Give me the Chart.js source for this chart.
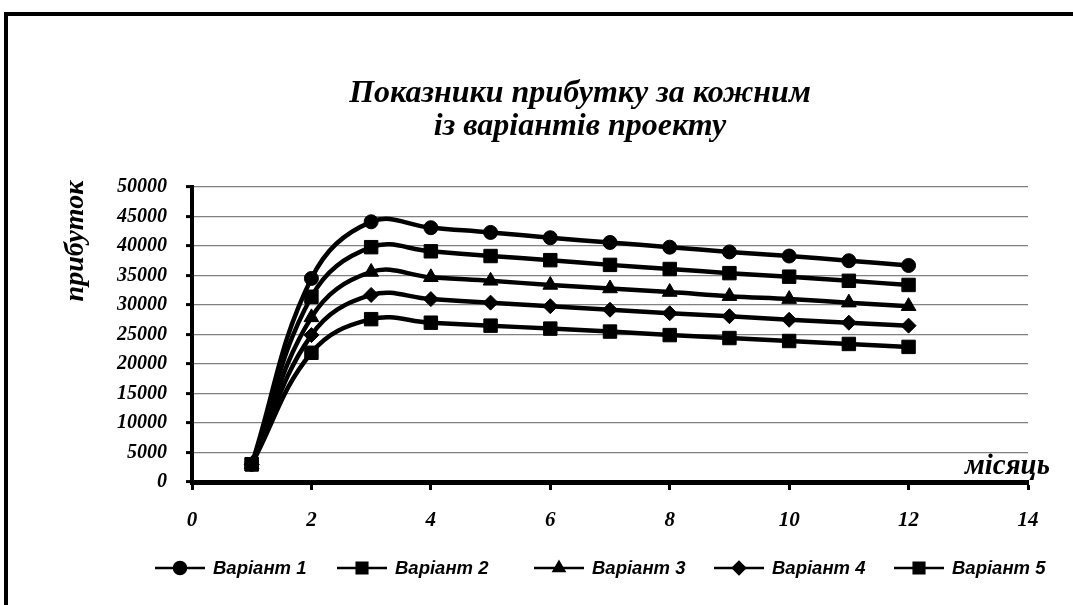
<!DOCTYPE html>
<html>
<head>
<meta charset="utf-8">
<script src="https://cdn.jsdelivr.net/npm/chart.js@4.4.1/dist/chart.umd.min.js"></script>
<style>
  html, body { margin: 0; padding: 0; background: #fff; overflow: hidden; }
  #wrap { position: relative; width: 1073px; height: 605px; }
  #frame {
    position: absolute; left: 4px; top: 12px; width: 1200px; height: 800px;
    border: 4px solid #000; pointer-events: none;
  }
  canvas { position: absolute; left: 0; top: 0; }
</style>
</head>
<body>
<div id="wrap">
  <canvas id="profitChart" width="1073" height="605"></canvas>
  <div id="frame"></div>
</div>
<script>
// ─── ДАНІ ─────────────────────────────────────────────────────────────────
const months = [1, 2, 3, 4, 5, 6, 7, 8, 9, 10, 11, 12];

const variant1 = [3000, 34500, 44100, 43100, 42300, 41400, 40600, 39800, 39000, 38300, 37500, 36700];
const variant2 = [3000, 31400, 39800, 39100, 38300, 37600, 36800, 36100, 35400, 34800, 34100, 33400];
const variant3 = [3000, 27900, 35600, 34700, 34100, 33400, 32800, 32200, 31500, 31000, 30400, 29800];
const variant4 = [3000, 24900, 31700, 31000, 30400, 29800, 29200, 28600, 28100, 27500, 27000, 26500];
const variant5 = [3000, 21900, 27600, 27000, 26500, 26000, 25500, 24900, 24400, 23900, 23400, 22900];

const seriesNames = ['Варіант 1', 'Варіант 2', 'Варіант 3', 'Варіант 4', 'Варіант 5'];
const seriesValues = [variant1, variant2, variant3, variant4, variant5];
const seriesMarkers = ['circle', 'rect', 'triangle', 'rectRot', 'rect'];
const markerRadius = [7, 9.5, 8.5, 7.5, 9.5];

const xTicks = [0, 2, 4, 6, 8, 10, 12, 14];
const yMax = 50000, yStep = 5000;

const titleLines = ['Показники прибутку за кожним', 'із варіантів проекту'];
const yTitle = 'прибуток';
const xTitle = 'місяць';

// ─── ПОЗНАЧКИ ─────────────────────────────────────────────────────────────
const serif = "'Liberation Serif', 'Times New Roman', serif";
const sans  = "'Liberation Sans', Arial, sans-serif";

const datasets = seriesNames.map((name, i) => ({
    label: name,
    data: months.map((m, j) => ({ x: m, y: seriesValues[i][j] })),
    borderColor: '#000',
    backgroundColor: '#000',
    borderWidth: 4.5,
    tension: 0.4,
    pointStyle: seriesMarkers[i],
    pointRadius: markerRadius[i],
    pointBackgroundColor: '#000',
    pointBorderColor: '#000',
    pointBorderWidth: 1
}));

// заголовки та підписи осей
const textPlugin = {
    id: 'texts',
    afterDraw(chart) {
        const c = chart.ctx;
        c.save();
        c.fillStyle = '#000';
        c.textAlign = 'center';
        c.textBaseline = 'alphabetic';
        c.font = `italic bold 32px ${serif}`;
        c.fillText(titleLines[0], 580, 102);
        c.fillText(titleLines[1], 580, 135);

        c.font = `italic bold 29px ${serif}`;
        c.textAlign = 'right';
        c.fillText(xTitle, 1050, 474);

        c.font = `italic bold 28px ${serif}`;
        c.translate(76, 241);
        c.rotate(-Math.PI / 2);
        c.textAlign = 'center';
        c.textBaseline = 'middle';
        c.fillText(yTitle, 0, 0);
        c.restore();
    }
};

// легенда: лінія з маркером
const legendStarts = [155, 337, 534, 714, 894];
const legendPlugin = {
    id: 'lineLegend',
    afterDraw(chart) {
        const c = chart.ctx;
        const y = 568;
        c.save();
        chart.data.datasets.forEach((ds, i) => {
            const x0 = legendStarts[i];
            c.strokeStyle = '#000';
            c.lineWidth = 2.5;
            c.beginPath();
            c.moveTo(x0, y);
            c.lineTo(x0 + 50, y);
            c.stroke();
            c.fillStyle = '#000';
            Chart.helpers.drawPoint(c, {
                pointStyle: ds.pointStyle,
                radius: ds.pointStyle === 'rect' ? 7.5 : 6,
                rotation: 0,
                borderWidth: 1
            }, x0 + 25, y);
            c.font = `italic bold 18.5px ${sans}`;
            c.textAlign = 'left';
            c.textBaseline = 'middle';
            c.fillText(ds.label, x0 + 58, y + 1);
        });
        c.restore();
    }
};

const profitChart = new Chart(document.getElementById('profitChart'), {
    type: 'line',
    data: { datasets },
    options: {
        responsive: false,
        animation: false,
        layout: { padding: { left: 112, right: 45, top: 187, bottom: 63 } },
        scales: {
            x: {
                type: 'linear',
                min: 0, max: 14,
                afterBuildTicks: s => { s.ticks = xTicks.map(v => ({ value: v })); },
                afterFit: s => { s.height = 60; },
                border: { color: '#000', width: 5 },
                grid: { drawOnChartArea: false, tickColor: '#000', tickWidth: 3, tickLength: 8 },
                ticks: {
                    color: '#000', padding: 18,
                    font: { family: serif, size: 21, style: 'italic', weight: 'bold' }
                }
            },
            y: {
                min: 0, max: yMax,
                afterFit: s => { s.width = 80; },
                border: { color: '#000', width: 4 },
                grid: { color: '#808080', lineWidth: 1.2, tickColor: '#000', tickWidth: 3, tickLength: 6 },
                ticks: {
                    stepSize: yStep,
                    color: '#000', padding: 19,
                    callback: v => String(v),
                    font: { family: serif, size: 20, style: 'italic', weight: 'bold' }
                }
            }
        },
        plugins: {
            legend: { display: false },
            title: { display: false },
            tooltip: { enabled: false }
        }
    },
    plugins: [textPlugin, legendPlugin]
});
</script>
</body>
</html>
